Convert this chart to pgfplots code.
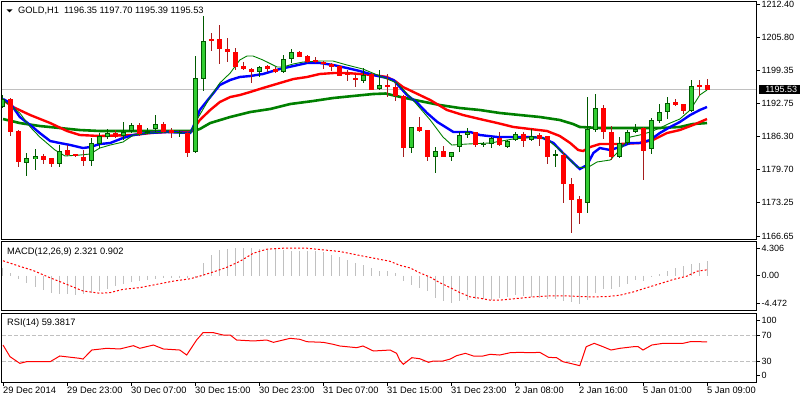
\documentclass[border=0pt]{standalone}
\usepackage{fontspec}
\setmainfont{Liberation Sans}
\usepackage{pgfplots}
\usepackage{pgfplotstable}
\pgfplotsset{compat=1.18}
\definecolor{bullfill}{RGB}{50,205,50}
\definecolor{bullline}{RGB}{0,90,0}
\definecolor{bearfill}{RGB}{255,0,0}
\definecolor{bearline}{RGB}{165,30,30}
\definecolor{mag}{RGB}{0,128,0}
\definecolor{silv}{RGB}{192,192,192}
\newcommand\txtfont{\fontsize{9.3}{11}\selectfont}
\newcommand\numfont{\fontsize{9}{11}\selectfont}

\pgfplotstableread{
i o h l c
0 1192.0 1194.5 1191.8 1193.6
3 1181.0 1183.0 1178.5 1182.0
4 1181.8 1183.8 1179.7 1182.4
7 1180.8 1184.6 1180.3 1183.4
11 1181.4 1186.0 1180.5 1185.0
12 1184.8 1187.0 1184.0 1186.4
13 1186.2 1187.8 1185.8 1187.0
15 1186.4 1189.1 1185.6 1187.2
16 1187.4 1188.9 1187.0 1188.5
18 1187.0 1188.0 1186.8 1187.4
19 1187.7 1190.5 1187.2 1188.7
22 1187.0 1187.6 1186.2 1187.2
24 1183.2 1202.1 1183.0 1197.8
25 1197.6 1210.0 1195.2 1205.1
32 1199.0 1200.2 1198.0 1200.0
35 1199.0 1202.3 1198.8 1201.6
36 1201.6 1203.5 1200.8 1203.0
45 1197.2 1199.8 1196.8 1198.4
47 1195.6 1199.4 1195.4 1196.4
51 1184.0 1188.1 1183.0 1188.1
54 1182.2 1184.2 1179.0 1183.4
56 1182.2 1183.2 1181.4 1183.2
57 1184.2 1187.2 1183.2 1186.6
58 1186.6 1188.0 1186.0 1187.2
60 1184.6 1185.2 1184.2 1184.8
61 1184.8 1186.2 1184.0 1186.0
63 1184.2 1185.6 1184.0 1185.4
64 1185.6 1187.2 1185.4 1186.8
66 1185.6 1187.8 1185.4 1186.4
69 1182.6 1183.6 1180.3 1182.8
73 1173.2 1194.1 1171.2 1187.8
74 1187.6 1194.6 1187.2 1191.9
77 1182.2 1186.2 1182.0 1185.0
78 1185.0 1187.6 1184.6 1187.2
79 1187.2 1188.7 1187.0 1187.8
81 1183.8 1189.9 1182.8 1189.5
82 1189.3 1192.7 1188.9 1191.1
83 1191.1 1194.1 1189.7 1192.9
86 1191.3 1197.4 1191.1 1196.2
}\bull

\pgfplotstableread{
i o h l c
1 1193.7 1193.9 1186.4 1187.2
2 1187.4 1187.6 1180.3 1181.2
5 1182.4 1182.8 1180.8 1181.6
6 1182.0 1182.1 1180.3 1180.8
8 1183.6 1184.6 1182.4 1182.6
9 1182.8 1182.9 1182.3 1182.4
10 1182.2 1183.6 1180.5 1181.4
14 1187.0 1187.6 1186.0 1186.2
17 1188.5 1188.9 1186.4 1186.8
20 1188.7 1189.1 1187.0 1187.2
21 1187.6 1188.0 1186.0 1187.0
23 1187.0 1187.1 1182.2 1183.0
26 1205.5 1206.7 1203.1 1205.1
27 1205.5 1208.3 1200.6 1203.5
28 1203.5 1205.7 1201.0 1202.9
29 1202.9 1203.7 1199.4 1200.0
30 1200.2 1201.0 1199.4 1199.6
31 1199.6 1199.7 1196.8 1199.0
33 1200.2 1200.4 1199.0 1199.6
34 1199.6 1200.0 1198.8 1199.0
37 1203.0 1203.1 1201.9 1202.0
38 1202.1 1202.3 1200.8 1201.0
39 1201.4 1202.0 1200.8 1201.0
40 1201.0 1201.2 1199.6 1200.6
41 1200.6 1200.8 1199.2 1200.0
42 1200.2 1200.4 1198.2 1198.2
43 1198.8 1199.4 1197.2 1198.4
44 1197.8 1198.4 1196.0 1197.6
46 1198.6 1198.8 1195.4 1195.4
48 1196.4 1198.6 1194.1 1196.0
49 1196.0 1196.8 1193.3 1194.2
50 1194.2 1194.4 1182.2 1184.0
52 1188.1 1190.1 1187.2 1187.4
53 1187.6 1187.6 1181.4 1182.2
55 1183.4 1184.4 1182.2 1182.2
59 1187.2 1187.2 1184.2 1184.6
62 1186.0 1187.2 1184.4 1184.6
65 1186.8 1187.2 1184.2 1185.4
67 1186.6 1187.0 1184.4 1185.8
68 1186.4 1186.4 1180.8 1182.2
70 1182.6 1183.2 1173.2 1176.9
71 1176.9 1178.1 1167.2 1173.8
72 1174.0 1174.6 1169.0 1171.2
75 1191.9 1192.5 1185.8 1187.2
76 1187.2 1188.3 1181.6 1182.2
80 1187.9 1188.1 1177.7 1183.4
84 1193.1 1193.7 1192.3 1192.5
85 1192.7 1192.7 1190.7 1191.3
87 1196.3 1197.4 1194.3 1196.2
88 1196.35 1197.70 1195.39 1195.53
}\bear

\pgfplotstableread{
i v
0 1.2
1 0.4
2 -0.5
3 -1.15
4 -1.83
5 -2.35
6 -2.72
7 -2.98
8 -2.98
9 -3.14
10 -2.98
11 -2.82
12 -2.46
13 -2.09
14 -1.67
15 -1.31
16 -1.05
17 -0.89
18 -0.73
19 -0.52
20 -0.42
21 -0.37
22 -0.37
23 -0.47
24 -0.37
25 1.99
26 3.29
27 4.08
28 4.25
29 4.30
30 4.306
31 4.30
32 4.2
33 4.2
34 4.15
35 4.05
36 3.97
37 3.92
38 3.92
39 3.82
40 3.66
41 3.29
42 2.87
43 2.51
44 1.99
45 1.72
46 1.20
47 0.78
48 0.68
49 0.42
50 -0.89
51 -1.52
52 -1.93
53 -2.46
54 -3.5
55 -4.02
56 -4.3
57 -4.02
58 -3.87
59 -3.76
60 -3.76
61 -3.87
62 -3.5
63 -3.35
64 -3.14
65 -3.24
66 -3.4
67 -3.5
68 -3.76
69 -3.76
70 -4.02
71 -4.29
72 -4.472
73 -3.87
74 -2.72
75 -2.2
76 -2.09
77 -1.78
78 -1.31
79 -0.78
80 -0.89
81 -0.2
82 0.26
83 0.68
84 1.2
85 1.46
86 1.8
87 2.0
88 2.321
}\macd

\pgfplotsset{
  mtpanel/.style={
    scale only axis, anchor=south west, width=754pt,
    xmin=-0.125, xmax=94.125,
    axis line style={line width=1pt, black},
    tick align=outside, major tick length=3.5pt,
    tick style={line width=0.8pt, black},
    ytick pos=right, yticklabel pos=right,
    yticklabel style={font=\numfont, anchor=west, inner sep=0pt, xshift=2pt},
    clip mode=individual,
  },
  bodystyle/.style={draw=none, mark=none, forget plot,
    error bars/.cd, y dir=both, y explicit, error mark=none},
}

\begin{document}
\begin{tikzpicture}
\useasboundingbox (0pt,0pt) rectangle (800pt,400pt);

% ---------------- main price panel ----------------
\begin{axis}[mtpanel, at={(2pt,161pt)}, height=237pt,
  ymin=1166.06, ymax=1212.80, xtick=\empty,
  ytick={1166.65,1173.25,1179.70,1186.30,1192.75,1199.35,1205.80,1212.40},
  yticklabels={1166.65,1173.25,1179.70,1186.30,1192.75,1199.35,1205.80,1212.40}]
\addplot[silv, line width=0.9pt, forget plot] coordinates {(-0.125,1195.53) (94.125,1195.53)};
% dark green slow MA
\addplot[mag, line width=2.6pt, forget plot] coordinates {
(0,1189.72) (2.1,1188.93) (4.6,1188.34) (7.1,1187.95) (9.6,1187.55) (12.1,1187.36) (23.8,1187.36)
(24.6,1187.75) (25.9,1188.93) (28.4,1190.12) (30.9,1191.10) (33.4,1191.70) (35.9,1192.68)
(38.75,1193.27) (41.25,1193.86) (43.75,1194.26) (46.25,1194.65) (47.8,1194.75) (49.6,1194.1)
(52.1,1193.27) (54.6,1192.48) (57.1,1191.89) (59.6,1191.50) (62.1,1190.91) (64.6,1190.51)
(67.1,1190.12) (69.6,1189.53) (71.25,1188.74) (72.1,1188.15) (74.6,1187.95) (82.1,1187.95)
(84.6,1188.15) (86.25,1188.74) (88,1188.93)};
% red MA
\addplot[red, line width=2.4pt, forget plot] coordinates {
(0,1193.47) (1.25,1192.09) (3.4,1190.51) (5.9,1188.93) (8,1187.36) (9.6,1186.57) (12.1,1186.37)
(16.3,1186.57) (18.4,1186.96) (20.5,1187.16) (23.4,1187.16) (24,1188.15) (24.6,1189.53)
(25.9,1191.50) (27.1,1193.07) (28.4,1194.06) (29.6,1194.45) (30.9,1195.05) (32.5,1195.84)
(34.6,1196.82) (36.3,1197.61) (38,1198.01) (39.6,1198.60) (41.3,1198.79) (43,1198.79)
(44.6,1198.60) (46.3,1198.40) (48,1198.01) (49,1197.22) (50,1196.03) (51.3,1195.05)
(53.4,1193.47) (55.5,1191.50) (57.5,1190.51) (59.6,1189.72) (61.8,1188.93) (63.8,1188.15)
(65.9,1187.75) (68,1187.36) (69.6,1186.37) (70.9,1184.99) (71.9,1183.61) (72.5,1183.41)
(73.4,1184.20) (74.6,1184.79) (77.1,1184.79) (79.6,1184.99) (81.25,1185.58) (83,1186.96)
(84.6,1187.55) (86.25,1188.54) (88,1189.72)};
% blue MA
\addplot[blue, line width=2.4pt, forget plot] coordinates {
(0,1193.67) (0.9,1192.88) (2.1,1190.12) (3.4,1188.54) (4.6,1186.96) (5.9,1185.38) (7.1,1184.99)
(8.4,1184.60) (10,1184.00) (10.9,1184.20) (12.1,1184.79) (13.4,1184.99) (15,1185.98)
(16.3,1186.57) (18,1186.96) (20.5,1187.16) (23.4,1186.96) (24,1188.93) (24.6,1191.50)
(25.9,1194.06) (27.1,1196.43) (28.4,1197.42) (29.6,1198.01) (30.9,1198.20) (32.5,1198.60)
(34.6,1199.58) (36.3,1200.17) (38,1200.77) (39.6,1200.77) (41.3,1200.37) (43,1199.78)
(44.6,1199.19) (46.3,1198.40) (48,1197.81) (48.8,1197.41) (49.6,1196.03) (50.5,1194.46)
(51.8,1192.88) (53,1190.91) (54.3,1189.13) (55.5,1187.95) (56.3,1187.16) (58.4,1187.16)
(59.6,1186.57) (61.8,1186.17) (63.8,1186.17) (65.9,1186.17) (67.5,1185.98) (68.8,1184.99)
(70,1183.02) (71.3,1181.05) (72.1,1179.86) (73,1180.65) (73.8,1183.02) (74.6,1184.00)
(75.9,1183.61) (77.1,1184.20) (78.4,1184.99) (79.6,1184.99) (80.9,1185.58) (82.1,1186.96)
(83.4,1188.15) (84.6,1189.13) (85.9,1190.51) (87.1,1191.50) (88,1192.09)};
% thin green fast MA
\addplot[mag, line width=0.9pt, forget plot] coordinates {
(0,1193.47) (2.1,1190.9) (3.4,1188.15) (4.6,1186.17) (6.5,1183.61) (7.75,1182.43) (9.6,1182.62)
(10.9,1182.82) (12.1,1184.00) (13.4,1184.59) (15,1185.18) (16.3,1186.57) (18.4,1186.96)
(20.5,1187.16) (22.5,1186.96) (23.4,1186.96) (24,1188.93) (25.9,1194.06) (27.1,1196.82)
(28.4,1198.79) (29.6,1201.36) (30.5,1202.15) (31.25,1202.15) (32.5,1201.36) (34.25,1199.98)
(35,1199.98) (36.25,1200.57) (37.5,1200.96) (39.6,1201.16) (41.25,1201.16) (43,1200.37)
(45,1199.58) (47.1,1198.20) (49.25,1196.82) (51.25,1193.47) (53.4,1189.53) (55,1186.17)
(56.1,1184.59) (58,1184.79) (60.9,1184.99) (63.75,1185.78) (66.75,1186.17) (68,1185.78)
(69.6,1183.61) (70.9,1181.64) (71.75,1180.26) (73,1180.06) (74.25,1181.25) (75.9,1181.64)
(77.1,1183.61) (78.4,1186.17) (79.6,1186.57) (80.9,1187.16) (82.1,1187.95) (83.4,1188.93)
(84.6,1189.72) (85.9,1191.50) (87.1,1194.46) (88,1195.44)};
% candles: wicks
\addplot[bodystyle, error bar style={line width=1pt, draw=bullline}]
  table[x=i, y expr={(\thisrow{h}+\thisrow{l})/2}, y error expr={(\thisrow{h}-\thisrow{l})/2}] {\bull};
\addplot[bodystyle, error bar style={line width=1pt, draw=bearline}]
  table[x=i, y expr={(\thisrow{h}+\thisrow{l})/2}, y error expr={(\thisrow{h}-\thisrow{l})/2}] {\bear};
% candles: bodies
\addplot[bodystyle, error bar style={line width=5pt, draw=bullline}]
  table[x=i, y expr={(\thisrow{o}+\thisrow{c})/2}, y error expr={max(abs(\thisrow{c}-\thisrow{o})/2,0.12)}] {\bull};
\addplot[bodystyle, error bar style={line width=3pt, draw=bullfill}]
  table[x=i, y expr={(\thisrow{o}+\thisrow{c})/2}, y error expr={max(abs(\thisrow{c}-\thisrow{o})/2-0.2,0)}] {\bull};
\addplot[bodystyle, error bar style={line width=5pt, draw=bearfill}]
  table[x=i, y expr={(\thisrow{o}+\thisrow{c})/2}, y error expr={max(abs(\thisrow{c}-\thisrow{o})/2,0.12)}] {\bear};
% texts
\node[anchor=base west, inner sep=0pt, font=\txtfont] at (rel axis cs:0,1) [xshift=16pt, yshift=-12pt]
  {GOLD,H1\ \ 1196.35 1197.70 1195.39 1195.53};
\node[anchor=west, fill=black, text=white, font=\numfont, inner xsep=3pt, inner ysep=1.6pt,
  minimum width=44pt, align=left] at (axis cs:94.125,1195.53) [xshift=3pt] {1195.53\hfill};
\end{axis}

% ---------------- MACD panel ----------------
\begin{axis}[mtpanel, at={(2pt,90pt)}, height=69pt,
  ymin=-5.488, ymax=5.488, xtick=\empty,
  ytick={-4.472,0,4.306}, yticklabels={-4.472,0.00,4.306}]
\addplot[ycomb, draw=silv, line width=1pt, mark=none, forget plot] table[x=i, y=v] {\macd};
\addplot[red, line width=1pt, dash pattern=on 2pt off 2pt, forget plot] coordinates {
(0,2.35) (2.1,1.46) (3.8,0.78) (5.9,-0.37) (7.96,-1.41) (10,-2.46) (12.1,-2.82) (13.4,-2.72)
(15,-2.2) (17.1,-1.93) (19.2,-1.41) (21.3,-0.89) (23.4,-0.52) (24.6,-0.10) (26.3,0.57)
(28,1.31) (29.6,2.25) (31.3,3.55) (32.96,4.18) (35,4.34) (38,4.34) (40,4.08) (42.1,3.82)
(44.2,3.29) (46.3,2.77) (48.4,2.25) (49.6,1.62) (50.9,1.2) (52.1,0.42) (53.4,-0.26)
(54.6,-1.15) (55.9,-1.93) (57.1,-2.72) (58.4,-3.4) (59.6,-3.61) (60.9,-3.92) (62.1,-3.92)
(63.4,-3.76) (64.6,-3.61) (66.3,-3.4) (68.4,-3.24) (70.5,-3.24) (72.1,-3.35) (73.8,-3.4)
(75.5,-3.35) (77.1,-3.14) (78.8,-2.61) (80.5,-1.93) (82.1,-1.31) (83.8,-0.63) (85.5,-0.10)
(86.75,0.68) (88,0.902)};
\node[anchor=base west, inner sep=0pt, font=\txtfont] at (rel axis cs:0,1) [xshift=5pt, yshift=-13pt]
  {MACD(12,26,9) 2.321 0.902};
\end{axis}

% ---------------- RSI panel ----------------
\begin{axis}[mtpanel, at={(2pt,18pt)}, height=69pt,
  ymin=-2.3, ymax=103.85,
  ytick={8.5,30,70,92}, yticklabels={0,30,70,100},
  xtick={0,8,16,24,32,40,48,56,64,72,80,88},
  xticklabels={29 Dec 2014,29 Dec 23:00,30 Dec 07:00,30 Dec 15:00,30 Dec 23:00,31 Dec 07:00,31 Dec 15:00,31 Dec 23:00,2 Jan 08:00,2 Jan 16:00,5 Jan 01:00,5 Jan 09:00},
  xtick pos=left,
  xticklabel style={font=\txtfont, anchor=base west, inner sep=0pt, yshift=-8pt, xshift=0pt}]
\addplot[silv, line width=0.8pt, dash pattern=on 4pt off 2pt, forget plot] coordinates {(-0.125,70) (94.125,70)};
\addplot[silv, line width=0.8pt, dash pattern=on 4pt off 2pt, forget plot] coordinates {(-0.125,30) (94.125,30)};
\addplot[red, line width=1pt, forget plot] coordinates {
(0,54.6) (0.875,36.7) (2.1,26.4) (2.96,29) (5.9,29) (7.1,37.7) (9.6,34.1) (10,33) (11.1,46.9)
(12.96,49.5) (14.6,48.5) (16.3,53.6) (17.1,49.5) (18.8,54.6) (20.05,48.5) (22.1,46.9)
(22.96,39.2) (24.2,62.3) (25,73.6) (26.3,73.6) (27.5,70) (28.4,70) (29.2,62.3) (31.3,60.8)
(32.96,62.3) (33.8,58.7) (35.9,64.9) (37.1,63.4) (38,59.7) (40.05,58.7) (41.3,55.6)
(42.1,53.1) (44.2,50.5) (45,53.1) (46.3,45.4) (48.4,46.9) (49.2,41.8) (49.6,31) (50.04,24.9)
(51.1,35.1) (52.1,33.5) (53.2,28) (53.8,30) (55,30) (55.9,33) (56.7,38.2) (57.8,41.8)
(58.8,37.7) (60,37.7) (60.9,40.3) (62.1,39.2) (63.4,42.8) (64.6,43.3) (65.9,42.8) (67.1,43.3)
(68.2,35.6) (69.2,35.1) (70,28.9) (70.9,26.4) (72.1,22.8) (72.9,52) (73.9,57.2) (75,52)
(76,46.9) (77.1,49.5) (78.8,52) (79.4,52) (80,46.9) (81.1,54.6) (82.5,57.2) (85,57.2)
(85.9,59.7) (87.1,59.7) (88,59.38)};
\node[anchor=base west, inner sep=0pt, font=\txtfont] at (rel axis cs:0,1) [xshift=5pt, yshift=-12.5pt]
  {RSI(14) 59.3817};
\end{axis}

% small menu triangle before the title
\fill[black] (6.5pt,390.5pt) -- (12.5pt,390.5pt) -- (9.5pt,387.5pt) -- cycle;
\end{tikzpicture}
\end{document}
